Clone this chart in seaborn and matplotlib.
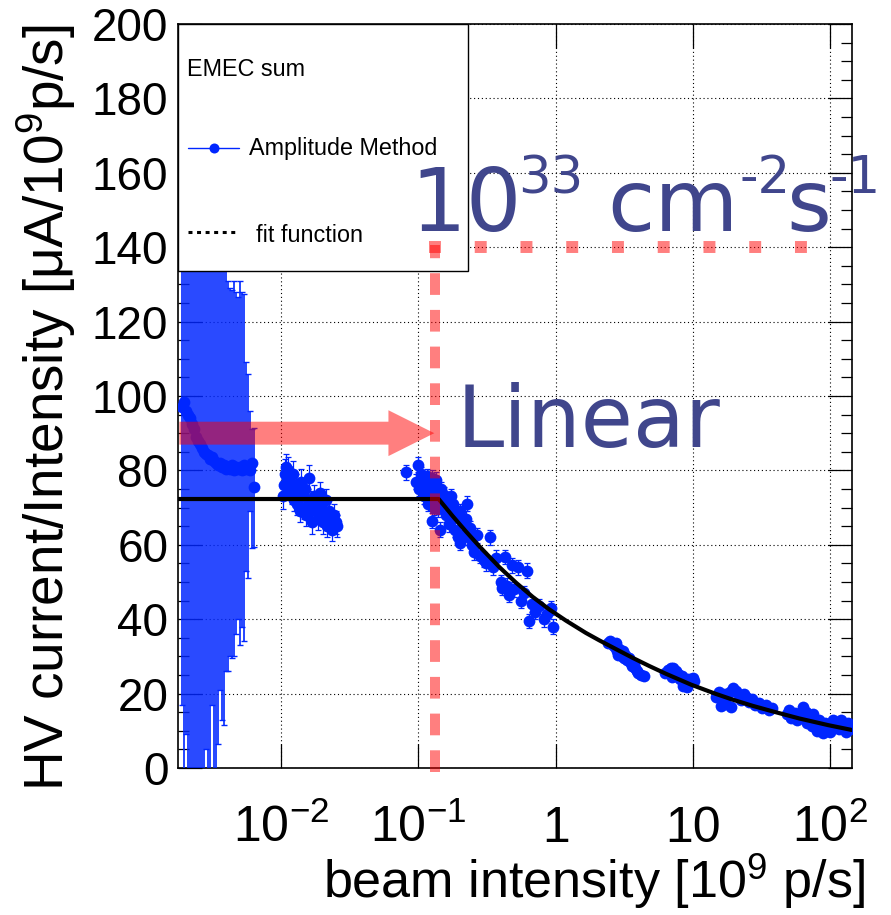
"""
plot.py
- HV current / beam intensity vs beam intensity (EMEC sum), ROOT-style look
"""

import matplotlib
matplotlib.use("Agg")
import matplotlib.pyplot as plt
from matplotlib.lines import Line2D
from matplotlib.patches import Rectangle
from matplotlib.ticker import LogLocator, MultipleLocator, NullFormatter
import numpy as np
import pandas as pd
import seaborn as sns

# ---- data ----
# low-intensity run: huge, asymmetric error bars
low_x = [0.00191, 0.00198, 0.00204, 0.00211, 0.00218, 0.00226, 0.00234, 0.00242,
         0.00250, 0.00258, 0.00267, 0.00276, 0.00286, 0.00295, 0.00305, 0.00316,
         0.00327, 0.00338, 0.00349, 0.00361, 0.00374, 0.00386, 0.00400, 0.00413,
         0.00427, 0.00442, 0.00457, 0.00472, 0.00489, 0.00505, 0.00523, 0.00540,
         0.00559, 0.00578, 0.00597, 0.00618, 0.00639]
low_y = [97, 98.5, 96, 95, 94, 92.5, 91, 89, 88, 87, 86, 85, 84.5, 84, 83, 83.5,
         82.5, 82, 81.5, 82, 81, 81.5, 80.5, 81, 80.5, 81.5, 80, 81, 80.5, 81, 80,
         81.5, 80.5, 81, 80, 82, 75.5]
low_err_lo = [80, 130, 87, 120, 110, 125, 100, 120, 105, 115, 95, 110, 79.5, 100,
              90, 66.5, 95, 85, 75, 61, 68, 70, 54.5, 55, 50.5, 52, 50, 45, 40.5,
              48, 42, 47.5, 27.5, 30, 11, 23, 16]
low_err_hi = [130, 130, 130, 130, 130, 130, 130, 130, 130, 130, 130, 130, 130, 130,
              130, 130, 130, 130, 130, 130, 130, 130, 130, 50, 48.5, 47, 51, 47, 46,
              50, 48, 46, 28.5, 25, 16, 9, 16]

# second run around 1e-2
run2_x = [0.0103, 0.0105, 0.0107, 0.0109, 0.0111, 0.0113, 0.0115, 0.0117, 0.0120,
          0.0122, 0.0125, 0.0128, 0.0131, 0.0134, 0.0137, 0.0140, 0.0143, 0.0146,
          0.0150, 0.0153, 0.0157, 0.0161, 0.0165, 0.0169, 0.0173, 0.0177, 0.0181,
          0.0186, 0.0191, 0.0196, 0.0201, 0.0206, 0.0212, 0.0218, 0.0224, 0.0230,
          0.0237, 0.0244, 0.0251, 0.0258]
run2_y = [73, 76, 79, 81, 78, 80, 75, 77, 74, 79, 72, 76, 71, 74, 69, 77, 73, 70,
          75, 68, 72, 78, 70, 66, 73, 69, 71, 67, 74, 70, 66, 68, 72, 65, 69, 67,
          64, 68, 66, 65]
run2_err = [3.5, 3.5, 4, 3.5, 3, 3.5, 3, 3, 3, 3.5, 3, 3, 3, 3, 3, 3.5, 3, 3, 3, 3,
            3, 3.5, 3, 3, 3, 3, 3, 3, 3, 3, 3, 3, 3, 3, 3, 3, 3, 3, 3, 3]

# high-intensity scan
scan_x = [0.082, 0.100, 0.097, 0.101, 0.104, 0.105, 0.107, 0.110, 0.112, 0.115,
          0.116, 0.118, 0.120, 0.123, 0.125, 0.126, 0.128, 0.131, 0.134, 0.135,
          0.137, 0.140, 0.143, 0.146, 0.150, 0.154, 0.158, 0.162, 0.166, 0.170,
          0.172, 0.175, 0.180, 0.185, 0.190, 0.196, 0.200, 0.202, 0.208, 0.215,
          0.222, 0.226, 0.230, 0.238, 0.247, 0.256, 0.266, 0.28, 0.30, 0.31, 0.33,
          0.35, 0.37, 0.40, 0.41, 0.43, 0.44, 0.46, 0.48, 0.50, 0.53, 0.56, 0.59,
          0.62, 0.64, 0.67, 0.71, 0.76, 0.82, 0.86, 0.93, 0.95]
scan_y = [79.5, 81.5, 77, 75, 78, 79, 76, 73, 77.5, 74, 78.5, 71, 76, 72, 78, 66.5,
          74.5, 70, 76, 77.5, 73, 69.5, 64, 75, 71, 73.5, 68, 72, 65.5, 70, 73, 67,
          71, 64, 68, 62, 69, 60.5, 66, 63, 67, 71, 62, 64.5, 60, 58, 62.5, 57, 56,
          55, 62, 54, 56.5, 50, 48.5, 56.7, 49, 46.5, 54.5, 48, 54, 45, 47, 53,
          39.5, 44, 42, 43.5, 40, 41.5, 43, 38]
scan_err = [2.0] * len(scan_x)

# clusters at higher intensity (error bars hidden inside the markers)
hi_x = [2.4, 2.5, 2.6, 2.7, 2.75, 2.8, 2.85, 2.9, 3.0, 3.05, 3.1, 3.15, 3.2, 3.3,
        3.4, 3.5, 3.6, 3.7, 3.8, 3.9, 4.0, 4.2, 4.4,
        6.3, 6.6, 6.9, 7.0, 7.2, 7.3, 7.5, 7.8, 8.0, 8.3, 8.5, 8.6, 8.9, 9.0, 9.2,
        9.6, 10.0, 10.2,
        14.8, 15.5, 16.0, 16.2, 17.0, 17.5, 18.5, 19.0, 19.5, 20.5, 21.5, 22.5,
        23.5, 24.5, 25.5, 27.0, 28.5, 30.0, 32.0, 34.0, 36.0, 37.5,
        48, 50, 52, 55, 57, 60, 63, 66, 68, 70, 73, 75, 78, 80, 83, 86, 89, 92, 95,
        100, 105, 110, 115, 120, 125, 130, 135, 140]
hi_y = [33.5, 34, 33, 32.5, 33.5, 31.5, 30.5, 32, 31, 30, 31.5, 29.5, 30.5, 29,
        29.5, 28.5, 27.5, 28, 27, 26, 25.5, 25, 24.8,
        25.5, 26.2, 26.8, 24.5, 27, 24.8, 26, 25.2, 23.8, 24.6, 22, 23, 22.5, 21.8,
        23.8, 24, 24.2, 23.5,
        19, 20.5, 16.6, 18.5, 19.8, 17.2, 20.5, 16.5, 21.5, 20.8, 19.5, 18.2, 20,
        19, 17.8, 18.5, 17, 17.5, 16.2, 16.8, 15.6, 16,
        14.5, 15.5, 13.5, 14.8, 12.8, 14, 16.5, 15, 12, 13.8, 11.2, 14.5, 12.5, 10,
        13, 11.5, 9.5, 12.2, 10.8, 9.8, 12.8, 11.5, 10.5, 13, 11.2, 9.6, 12, 10.5]
hi_err = [0.5] * len(hi_x)

# fit function
fit_x = [0.00178, 0.1406, 0.178, 0.222, 0.278, 0.389, 0.515, 0.680, 0.900, 1.19,
         1.66, 2.08, 2.90, 3.64, 4.81, 6.37, 9.68, 14.7, 19.5, 27.2, 38.1, 59.5,
         96.8, 144]
fit_y = [72.3, 72.3, 67.7, 63.6, 59.6, 54.0, 49.8, 46.0, 42.6, 39.6, 36.3, 34.3,
         31.5, 29.6, 27.4, 25.3, 22.4, 19.9, 18.35, 16.7, 15.2, 13.3, 11.5, 10.2]

x_ticks = [0.01, 0.1, 1, 10, 100]
x_tick_labels = [r"$10^{-2}$", r"$10^{-1}$", "1", "10", r"$10^{2}$"]
y_ticks = list(range(0, 201, 20))

BLUE = "#0026ff"
RED = "#ff0000"
NAVY = "#40468c"

# ---- style ----
sns.set_theme(style="white")
plt.rcParams["font.family"] = ["Liberation Sans", "DejaVu Sans"]
plt.rcParams["mathtext.fontset"] = "custom"
plt.rcParams["mathtext.rm"] = "Liberation Sans"
plt.rcParams["mathtext.it"] = "Liberation Sans:italic"
plt.rcParams["mathtext.bf"] = "Liberation Sans:bold"
plt.rcParams["text.color"] = "black"
plt.rcParams["axes.labelcolor"] = "black"

fig = plt.figure(figsize=(8.91, 9.15), dpi=100)
ax = fig.add_axes([0.1998, 0.1607, 0.7565, 0.8131])

# ---- data points ----
ax.errorbar(low_x, low_y, yerr=[low_err_lo, low_err_hi], fmt="none", ecolor=BLUE,
            elinewidth=1.2, capsize=2.5, capthick=1.0, zorder=3)
mid_x = run2_x + scan_x + hi_x
mid_y = run2_y + scan_y + hi_y
mid_err = run2_err + scan_err + hi_err
ax.errorbar(mid_x, mid_y, yerr=mid_err, fmt="none", ecolor=BLUE,
            elinewidth=0.9, capsize=2.5, capthick=0.9, zorder=3)

df = pd.DataFrame({"intensity": low_x + mid_x, "ratio": low_y + mid_y})
sns.scatterplot(data=df, x="intensity", y="ratio", color=BLUE, s=72, linewidth=0,
                ax=ax, zorder=3.5, legend=False)

sns.lineplot(x=fit_x, y=fit_y, color="black", lw=3, ax=ax, sort=False,
             estimator=None, zorder=4)

# ---- axes ----
ax.set_xscale("log")
ax.set_xlim(0.00178, 144)
ax.set_ylim(0, 200)
ax.set_xticks(x_ticks)
ax.set_xticklabels(x_tick_labels)
ax.xaxis.set_minor_locator(LogLocator(base=10, subs=np.arange(2, 10)))
ax.xaxis.set_minor_formatter(NullFormatter())
ax.set_yticks(y_ticks)
ax.yaxis.set_minor_locator(MultipleLocator(5))
ax.tick_params(which="both", direction="in", top=True, right=True,
               bottom=True, left=True, colors="black", width=0.9)
ax.tick_params(which="major", length=17)
ax.tick_params(which="minor", length=8)
ax.tick_params(axis="y", labelsize=33, pad=7)
ax.tick_params(axis="x", labelsize=36, pad=53)
for t in ax.xaxis.get_major_ticks():
    t.label1.set_verticalalignment("baseline")

ax.grid(True, which="major", color="black", linestyle=(0, (1, 2.5)), linewidth=0.8)
ax.set_axisbelow(True)
for s in ax.spines.values():
    s.set_color("black")
    s.set_linewidth(1.2)

ax.set_xlabel(r"beam intensity [10$^{9}$ p/s]", fontsize=37.5, ha="right",
              va="baseline")
ax.xaxis.set_label_coords(1.019, -0.1747)
ax.set_ylabel(r"HV current/Intensity [μA/10$^{9}$p/s]", fontsize=39.5, ha="right")
ax.yaxis.set_label_coords(-0.148, 1.0)

# ---- legend box (ROOT style) ----
ax.add_patch(Rectangle((0, 0.668), 0.430, 0.332, transform=ax.transAxes,
                       facecolor="white", edgecolor="black", lw=1.0, zorder=5))
ax.text(0.0129, 0.930, "EMEC sum", transform=ax.transAxes, fontsize=16.8,
        va="baseline", zorder=6)
ax.add_line(Line2D([0.0153, 0.0910], [0.833, 0.833], transform=ax.transAxes,
                   color=BLUE, lw=1.0, zorder=6))
ax.add_line(Line2D([0.0539], [0.833], transform=ax.transAxes, color=BLUE,
                   marker="o", ms=7.2, mew=0, zorder=6))
ax.text(0.1058, 0.824, "Amplitude Method", transform=ax.transAxes, fontsize=16.8,
        va="baseline", zorder=6)
ax.add_line(Line2D([0.0153, 0.0846], [0.7208, 0.7208], transform=ax.transAxes,
                   color="black", lw=2.2, dashes=(1.3, 1.5), zorder=6))
ax.text(0.1157, 0.7074, "fit function", transform=ax.transAxes, fontsize=16.8,
        va="baseline", zorder=6)

# ---- red annotations ----
ax.plot([0.132, 0.132], [-1.1, 140.5], color=RED, alpha=0.5, lw=7.2,
        dashes=(2.17, 1.5), solid_capstyle="butt", clip_on=False, zorder=7)
ax.plot([0.1203, 70.5], [140, 140], color=RED, alpha=0.5, lw=8.6,
        dashes=(1.0, 2.83), dash_capstyle="butt", zorder=7)
ax.annotate("", xy=(0.1307, 90), xytext=(0.00182, 90),
            arrowprops=dict(arrowstyle="simple,head_length=33,head_width=33,tail_width=16.5",
                            mutation_scale=1, color=RED, alpha=0.5, lw=0,
                            shrinkA=0, shrinkB=0),
            zorder=7)

# ---- big labels ----
def ftxt(px, py, s, size):
    fig.text(px / 891, (915 - py) / 915, s, fontsize=size, color=NAVY,
             family="DejaVu Sans", ha="left", va="baseline", zorder=8)

ftxt(410, 230.7, "10", 63)
ftxt(518, 193, "33", 37)
ftxt(607, 230.7, "cm", 62)
ftxt(740, 193, "-2", 37)
ftxt(786, 230.7, "s", 62)
ftxt(829, 193, "-1", 37)
ftxt(457, 447, "Linear", 61)

fig.savefig("out.png", dpi=100)
plt.close(fig)
